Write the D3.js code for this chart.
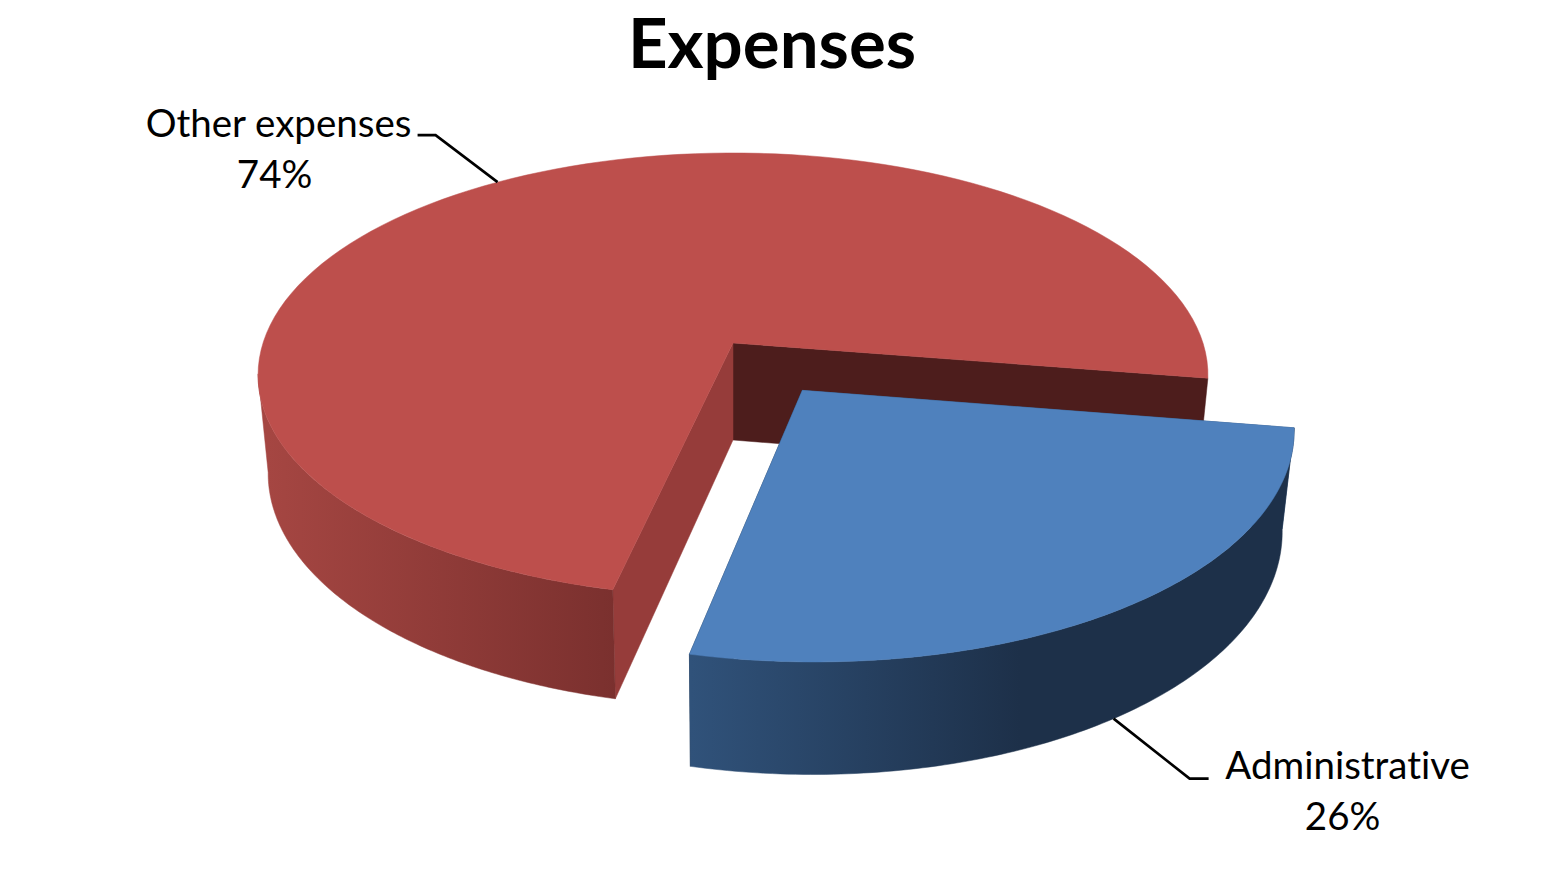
<!DOCTYPE html>
<html>
<head>
<meta charset="utf-8">
<script src="https://cdn.jsdelivr.net/npm/d3@7"></script>
<style>
  html, body { margin: 0; padding: 0; background: #fff; }
  text { font-family: Lato, "Open Sans", sans-serif; fill: #000; font-variant-ligatures: none; }
</style>
</head>
<body>
<svg id="vis" width="1541" height="874"></svg>
<script>
var categories = ["Administrative", "Other expenses"];
var shares = [26, 74];
var chartTitle = "Expenses";

var width = 1541, height = 874;
var rad = Math.PI / 180;

// perspective of the pie plane (sizes in px, k = how fast it grows towards us)
var cx = 733, topY = 343, lowY = 440;
var topRx = 470, topRy = 217.4, lowRx = 460, lowRy = 228;
var k = 0.144;
var rotation = 99.1;
var explode = { "Administrative": 0.255, "Other expenses": 0 };

var topColor = { "Administrative": "#4f81bd", "Other expenses": "#bd4f4c" };
var startFace = { "Administrative": "#2f5178", "Other expenses": "#963c3a" };
var endFace = { "Administrative": "#1d3049", "Other expenses": "#4d1d1c" };
// wall gradients run left to right on screen
var wallStops = {
  "Administrative": { x: [691, 1020], color: ["#30527a", "#1d3049"] },
  "Other expenses": { x: [268, 618], color: ["#a54642", "#7a302e"] }
};

var pie = d3.pie().sort(null).value(function (d) { return d; })
  .startAngle(rotation * rad).endAngle((rotation + 360) * rad);
var slices = pie(shares).map(function (d, i) {
  return { name: categories[i], value: d.value, a0: d.startAngle - 90 * rad, a1: d.endAngle - 90 * rad };
});

// pie plane -> screen
function project(X, Y, level) {
  var w = 1 - k * Y;
  if (level == "top") return [cx + topRx * X / w, topY + topRy * Y / w];
  return [cx + lowRx * X / w, lowY + lowRy * Y / w];
}
function offset(s) {
  var mid = (s.a0 + s.a1) / 2;
  return [explode[s.name] * Math.cos(mid), explode[s.name] * Math.sin(mid)];
}
function rim(s, a, level) {
  var o = offset(s);
  return project(o[0] + Math.cos(a), o[1] + Math.sin(a), level);
}
function hub(s, level) {
  var o = offset(s);
  return project(o[0], o[1], level);
}
function sweep(a0, a1) {
  return d3.range(0, 121).map(function (i) { return a0 + (a1 - a0) * i / 120; });
}

var svg = d3.select("#vis");
var defs = svg.append("defs");
var line = d3.line();

categories.forEach(function (name, i) {
  var stops = wallStops[name];
  var grad = defs.append("linearGradient").attr("id", "wall" + i)
    .attr("gradientUnits", "userSpaceOnUse")
    .attr("x1", stops.x[0]).attr("x2", stops.x[1]).attr("y1", 0).attr("y2", 0);
  grad.append("stop").attr("offset", 0).attr("stop-color", stops.color[0]);
  grad.append("stop").attr("offset", 1).attr("stop-color", stops.color[1]);
});

function poly(g, pts, color) {
  g.append("path")
    .attr("d", line(pts) + "Z")
    .attr("fill", color)
    .attr("stroke", color)
    .attr("stroke-width", 0.5);
}

function drawSlice(s, i) {
  var g = svg.append("g");
  poly(g, [hub(s, "top"), rim(s, s.a1, "top"), rim(s, s.a1, "low"), hub(s, "low")], endFace[s.name]);
  poly(g, [hub(s, "top"), rim(s, s.a0, "top"), rim(s, s.a0, "low"), hub(s, "low")], startFace[s.name]);
  // outer wall only on the part that faces us, up to the left extreme of the ellipse
  var wall = sweep(s.a0, Math.min(s.a1, 172 * rad));
  var wallPts = wall.map(function (a) { return rim(s, a, "top"); })
    .concat(wall.slice().reverse().map(function (a) { return rim(s, a, "low"); }));
  poly(g, wallPts, "url(#wall" + i + ")");
  var top = [hub(s, "top")].concat(sweep(s.a0, s.a1).map(function (a) { return rim(s, a, "top"); }));
  poly(g, top, topColor[s.name]);
}

drawSlice(slices[1], 1);
drawSlice(slices[0], 0);

svg.append("text")
  .attr("x", 772).attr("y", 68)
  .attr("text-anchor", "middle")
  .attr("font-size", 69).attr("font-weight", 700)
  .text(chartTitle);

// leaders start on the rim at the middle of each slice
var labelStyle = {
  "Administrative": { level: "low", elbow: [76, 60], tail: 19, nameX: 234, pctX: 229, nameY: 60, pctY: 111 },
  "Other expenses": { level: "top", elbow: [-62, -47], tail: -18, nameX: -219, pctX: -223, nameY: -45.5, pctY: 6 }
};
slices.forEach(function (s) {
  var st = labelStyle[s.name];
  var p = rim(s, (s.a0 + s.a1) / 2, st.level);
  var e = [p[0] + st.elbow[0], p[1] + st.elbow[1]];
  svg.append("path")
    .attr("d", line([p, e, [e[0] + st.tail, e[1]]]))
    .attr("fill", "none").attr("stroke", "#000").attr("stroke-width", 2.6);
  svg.append("text").attr("x", p[0] + st.nameX).attr("y", p[1] + st.nameY)
    .attr("text-anchor", "middle").attr("font-size", 38.5).text(s.name);
  svg.append("text").attr("x", p[0] + st.pctX).attr("y", p[1] + st.pctY)
    .attr("text-anchor", "middle").attr("font-size", 38.5).text(s.value + "%");
});
</script>
</body>
</html>
